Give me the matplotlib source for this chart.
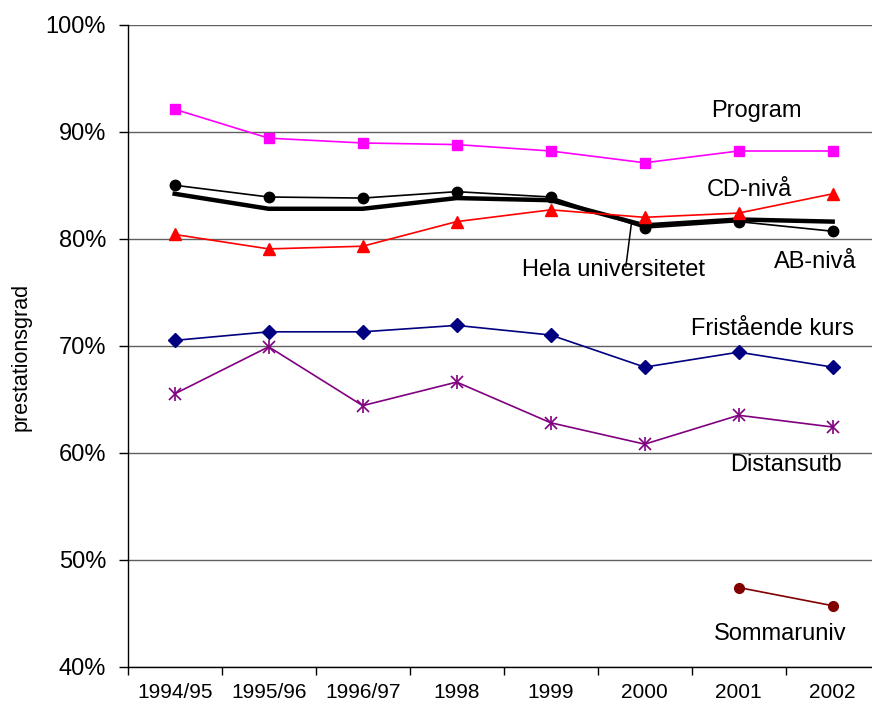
import numpy as np
import matplotlib
matplotlib.use("Agg")
import matplotlib.pyplot as plt
from matplotlib.ticker import PercentFormatter, FixedLocator

plt.rcParams["font.family"] = ["Liberation Sans", "DejaVu Sans"]

# Data (percent)
years = ["1994/95", "1995/96", "1996/97", "1998", "1999", "2000", "2001", "2002"]
program = [92.1, 89.4, 88.95, 88.8, 88.2, 87.1, 88.2, 88.2]
ab_niva = [85.0, 83.9, 83.8, 84.4, 83.9, 81.0, 81.6, 80.7]
hela_univ = [84.2, 82.8, 82.8, 83.8, 83.6, 81.25, 81.8, 81.6]
cd_niva = [80.4, 79.05, 79.3, 81.6, 82.7, 82.0, 82.4, 84.2]
fristaende = [70.5, 71.3, 71.3, 71.9, 71.0, 68.0, 69.4, 68.0]
distansutb = [65.5, 69.9, 64.4, 66.6, 62.8, 60.8, 63.5, 62.4]
sommaruniv = [np.nan, np.nan, np.nan, np.nan, np.nan, np.nan, 47.4, 45.7]

x = np.arange(len(years))

fig = plt.figure(figsize=(8.72, 7.07), dpi=100)
ax = fig.add_axes([0.1464, 0.057, 0.8624, 0.908])

lw = 1.2
ax.plot(x, program, color="#FF00FF", lw=lw, marker="s", ms=7, zorder=3)
ax.plot(x, hela_univ, color="black", lw=3.2, zorder=3)
ax.plot(x, ab_niva, color="black", lw=lw, marker="o", ms=7.5, zorder=4)
ax.plot(x, cd_niva, color="#FF0000", lw=lw, marker="^", ms=8, zorder=4)
ax.plot(x, fristaende, color="#000080", lw=lw, marker="D", ms=7, zorder=3)
ax.plot(x, distansutb, color="#800080", lw=lw, marker="x", ms=8, mew=1.2, zorder=3)
ax.plot(x, distansutb, color="#800080", lw=0, marker="|", ms=9.5, mew=1.2, zorder=3)
ax.plot(x, sommaruniv, color="#800000", lw=lw, marker="o", ms=7, zorder=3)

# Series labels
lab_fs = 17
ax.text(6.185, 91.4, "Program", ha="center", va="baseline", fontsize=lab_fs)
ax.text(6.115, 84.0, "CD-nivå", ha="center", va="baseline", fontsize=lab_fs)
ax.text(6.81, 77.23, "AB-nivå", ha="center", va="baseline", fontsize=lab_fs)
ax.text(4.673, 76.5, "Hela universitetet", ha="center", va="baseline", fontsize=lab_fs)
ax.text(6.365, 71.0, "Fristående kurs", ha="center", va="baseline", fontsize=lab_fs)
ax.text(6.506, 58.32, "Distansutb", ha="center", va="baseline", fontsize=lab_fs)
ax.text(6.44, 42.5, "Sommaruniv", ha="center", va="baseline", fontsize=lab_fs)
ax.annotate("", xy=(4.86, 81.5), xytext=(4.8, 77.4),
            arrowprops=dict(arrowstyle="-", lw=1.1, color="black",
                            shrinkA=0, shrinkB=0))

# Axes
ax.set_xlim(-0.5, len(years) - 0.5)
ax.set_ylim(40, 100)
ax.set_yticks(np.arange(40, 101, 10))
ax.yaxis.set_major_formatter(PercentFormatter(decimals=0))
ax.set_xticks(x)
ax.set_xticklabels(years)
ax.xaxis.set_minor_locator(FixedLocator(np.arange(-0.5, len(years), 1.0)))
ax.tick_params(axis="x", which="major", length=0, pad=12, labelsize=15)
ax.tick_params(axis="x", which="minor", length=6, width=1, direction="out")
ax.tick_params(axis="y", length=6.5, width=1, direction="out", pad=9, labelsize=17)

ax.grid(axis="y", color="#606060", lw=1)
ax.set_axisbelow(True)
ax.spines["top"].set_visible(False)
ax.spines["right"].set_visible(False)
ax.spines["left"].set_linewidth(1)
ax.spines["bottom"].set_linewidth(1)

fig.text(21 / 872, 1 - 356.5 / 707, "prestationsgrad", rotation=90,
         ha="center", va="center", fontsize=15.5)

fig.savefig("out.png", dpi=100, facecolor="white")
